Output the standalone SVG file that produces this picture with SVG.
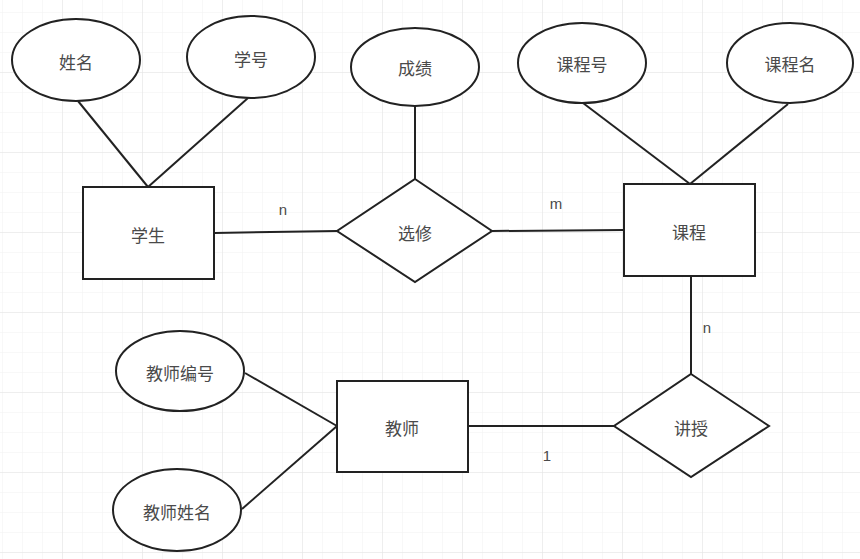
<svg xmlns="http://www.w3.org/2000/svg" width="860" height="559" viewBox="0 0 860 559">
  <defs>
    <pattern id="minor" x="2" y="12" width="20" height="20" patternUnits="userSpaceOnUse">
      <path d="M0 0H20M0 0V20" fill="none" stroke="#f1f1f1" stroke-width="1"/>
    </pattern>
    <pattern id="major" x="62" y="72" width="80" height="80" patternUnits="userSpaceOnUse">
      <path d="M0 0H80M0 0V80" fill="none" stroke="#e3e3e3" stroke-width="1"/>
    </pattern>
  </defs>
  <style>
    .shape { fill: #ffffff; stroke: #222222; stroke-width: 2; }
    .link { stroke: #222222; stroke-width: 2; fill: none; }
    .label { font-family: "Noto Sans CJK SC", "Noto Sans", sans-serif; font-size: 17px; fill: #4a4a4a; text-anchor: middle; dominant-baseline: central; }
    .card { font-family: "Liberation Sans", Arial, sans-serif; font-size: 15px; fill: #4a4a4a; text-anchor: middle; dominant-baseline: central; }
  </style>
  <rect x="0" y="0" width="860" height="559" fill="#ffffff"/>
  <rect x="0" y="0" width="860" height="559" fill="url(#minor)"/>
  <rect x="0" y="0" width="860" height="559" fill="url(#major)"/>

  <g id="connectors">
    <line class="link" x1="78" y1="101" x2="148" y2="187"/>
    <line class="link" x1="248" y1="98" x2="148" y2="187"/>
    <line class="link" x1="214" y1="233" x2="337" y2="231"/>
    <line class="link" x1="415" y1="106" x2="415" y2="179"/>
    <line class="link" x1="492" y1="231" x2="624" y2="230"/>
    <line class="link" x1="583" y1="103" x2="690" y2="184"/>
    <line class="link" x1="788" y1="104" x2="690" y2="184"/>
    <line class="link" x1="691" y1="276" x2="691" y2="374"/>
    <line class="link" x1="468" y1="426" x2="614" y2="426"/>
    <line class="link" x1="245" y1="373" x2="337" y2="426"/>
    <line class="link" x1="242" y1="509" x2="337" y2="426"/>
    <text class="card" x="283" y="209">n</text>
    <text class="card" x="556" y="203">m</text>
    <text class="card" x="707" y="327">n</text>
    <text class="card" x="547" y="455">1</text>
  </g>

  <g id="attr-name">
    <ellipse class="shape" cx="76" cy="60" rx="64" ry="41"/>
    <text class="label" x="76" y="61">姓名</text>
  </g>
  <g id="attr-sno">
    <ellipse class="shape" cx="251" cy="57" rx="64" ry="41"/>
    <text class="label" x="251" y="58">学号</text>
  </g>
  <g id="entity-student">
    <rect class="shape" x="83" y="187" width="131" height="92"/>
    <text class="label" x="148" y="234">学生</text>
  </g>
  <g id="attr-grade">
    <ellipse class="shape" cx="415" cy="67" rx="64" ry="39"/>
    <text class="label" x="415" y="67">成绩</text>
  </g>
  <g id="rel-elective">
    <polygon class="shape" points="415,179 492,231 415,282 337,231"/>
    <text class="label" x="415" y="232">选修</text>
  </g>
  <g id="attr-cno">
    <ellipse class="shape" cx="582" cy="63" rx="64" ry="40"/>
    <text class="label" x="582" y="63">课程号</text>
  </g>
  <g id="attr-cname">
    <ellipse class="shape" cx="790" cy="63" rx="63" ry="40"/>
    <text class="label" x="790" y="63">课程名</text>
  </g>
  <g id="entity-course">
    <rect class="shape" x="624" y="184" width="131" height="92"/>
    <text class="label" x="689" y="231">课程</text>
  </g>
  <g id="rel-teach">
    <polygon class="shape" points="691,374 769,426 691,477 614,426"/>
    <text class="label" x="691" y="427">讲授</text>
  </g>
  <g id="entity-teacher">
    <rect class="shape" x="337" y="381" width="131" height="91"/>
    <text class="label" x="402" y="427">教师</text>
  </g>
  <g id="attr-tno">
    <ellipse class="shape" cx="180" cy="371" rx="64" ry="40"/>
    <text class="label" x="180" y="372">教师编号</text>
  </g>
  <g id="attr-tname">
    <ellipse class="shape" cx="177" cy="510" rx="64" ry="41"/>
    <text class="label" x="177" y="511">教师姓名</text>
  </g>
</svg>
